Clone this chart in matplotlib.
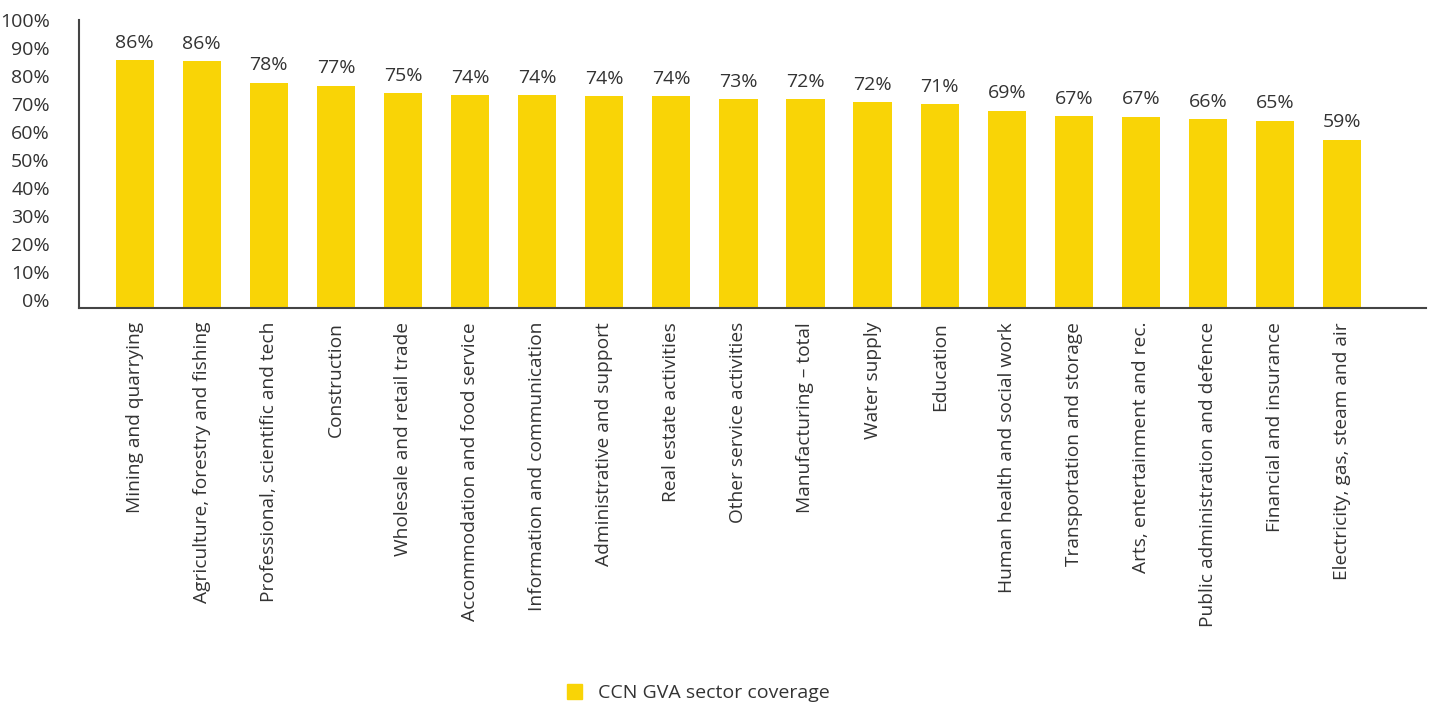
import matplotlib
matplotlib.use('Agg')
import matplotlib.pyplot as plt
import matplotlib.transforms as mtransforms
from matplotlib.patches import Patch

sectors = ['Mining and quarrying', 'Agriculture, forestry and fishing',
           'Professional, scientific and tech', 'Construction',
           'Wholesale and retail trade', 'Accommodation and food service',
           'Information and communication', 'Administrative and support',
           'Real estate activities', 'Other service activities',
           'Manufacturing – total', 'Water supply', 'Education',
           'Human health and social work', 'Transportation and storage',
           'Arts, entertainment and rec.', 'Public administration and defence',
           'Financial and insurance', 'Electricity, gas, steam and air']
coverage = [86.0, 85.6, 78.2, 77.2, 74.6, 74.0, 73.9, 73.6, 73.5, 72.6,
            72.4, 71.5, 70.7, 68.5, 66.6, 66.4, 65.6, 65.0, 58.5]
labels = ['86%', '86%', '78%', '77%', '75%', '74%', '74%', '74%', '74%', '73%',
          '72%', '72%', '71%', '69%', '67%', '67%', '66%', '65%', '59%']
yticks = list(range(0, 101, 10))

yellow = '#F9D406'
text_col = '#333333'

plt.rcParams['font.family'] = ['Open Sans', 'DejaVu Sans']

fig = plt.figure(figsize=(14.34, 7.06), dpi=100)
ax = fig.add_axes([0.0551, 0.5637, 0.9393, 0.408])

x = range(len(sectors))
ax.bar(x, coverage, width=0.57, color=yellow)
for xi, v, lab in zip(x, coverage, labels):
    ax.annotate(lab, (xi, v), xytext=(0, 6), textcoords='offset points',
                ha='center', va='bottom', fontsize=14, color=text_col)

ax.set_ylim(0, 100)
ax.set_xlim(-0.83, len(sectors) - 1 + 1.25)
ax.set_yticks(yticks)
ax.set_yticklabels([f'{t}%' for t in yticks], fontsize=14, color=text_col)
ax.set_xticks(list(x))
ax.set_xticklabels(sectors, rotation=90, fontsize=13.8, color=text_col)
ax.tick_params(axis='both', length=0)
ax.tick_params(axis='x', pad=10)
ax.tick_params(axis='y', pad=21)
# labels in the original sit slightly above their level, more so near the bottom
for t, lab in zip(yticks, ax.get_yticklabels()):
    shift = mtransforms.ScaledTranslation(0, 8 * (1 - t / 100) / 100, fig.dpi_scale_trans)
    lab.set_transform(lab.get_transform() + shift)
ax.spines['top'].set_visible(False)
ax.spines['right'].set_visible(False)
for side in ['left', 'bottom']:
    ax.spines[side].set_color('#444444')
    ax.spines[side].set_linewidth(1.5)

fig.legend(handles=[Patch(color=yellow, label='CCN GVA sector coverage')],
           loc='center', bbox_to_anchor=(0.487, 0.018), frameon=False,
           fontsize=14, handlelength=0.8, handleheight=0.8, labelcolor=text_col)

fig.savefig('out.png', dpi=100)
